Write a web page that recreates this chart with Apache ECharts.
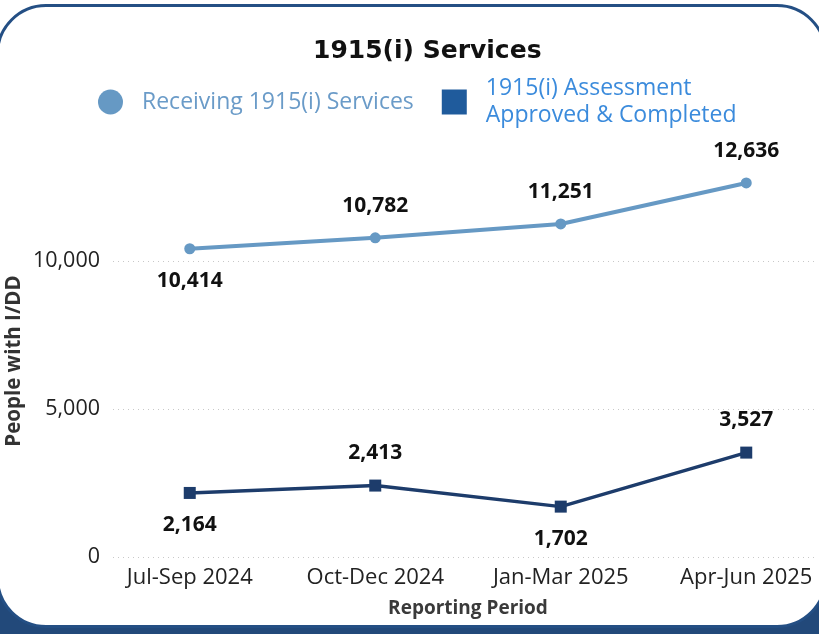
<!DOCTYPE html>
<html><head><meta charset="utf-8">
<script src="https://cdn.jsdelivr.net/npm/echarts@6/dist/echarts.min.js"></script>
<style>
html,body{margin:0;padding:0;width:819px;height:634px;overflow:hidden;background:#fff;}
#bg{position:absolute;left:0;top:0;width:819px;height:634px;background:linear-gradient(#fff 0,#fff 50%,#22497a 50%);}
#card{position:absolute;left:-4px;top:4px;width:825px;height:618px;border:3px solid #244f84;border-radius:50px;background:#fff;}
#chart{position:absolute;left:0;top:0;width:819px;height:634px;}
</style></head>
<body>
<div id="bg"></div><div id="card"></div><div id="chart"></div>
<script>
const categories = ['Jul-Sep 2024', 'Oct-Dec 2024', 'Jan-Mar 2025', 'Apr-Jun 2025'];
const receivingServices = [10414, 10782, 11251, 12636];
const assessmentCompleted = [2164, 2413, 1702, 3527];
const receivingLabelPos = ['bottom', 'top', 'top', 'top'];
const assessmentLabelPos = ['bottom', 'top', 'bottom', 'top'];
const seriesNames = ['Receiving 1915(i) Services', '1915(i) Assessment\nApproved & Completed'];

const FONT = '"Open Sans", "Noto Sans", sans-serif';
const fmt = v => v.toLocaleString('en-US');

function mkData(vals, pos) {
  return vals.map((v, i) => ({ value: v, label: { position: pos[i] } }));
}

const chart = echarts.init(document.getElementById('chart'), null, { renderer: 'canvas' });
chart.setOption({
  backgroundColor: 'transparent',
  animation: false,
  textStyle: { fontFamily: FONT },
  title: {
    text: '1915(i) Services', left: 313, top: 39, padding: 0,
    textStyle: { fontSize: 25, fontWeight: 'bold', color: '#111', fontFamily: '"DejaVu Sans", sans-serif' }
  },
  legend: {
    top: 72, left: 98, itemGap: 28, padding: 0,
    itemWidth: 25, itemHeight: 25,
    data: [
      { name: seriesNames[0], icon: 'circle', itemStyle: { color: '#6699c4' },
        textStyle: { color: '#6a9bc8', fontSize: 23, padding: [0, 0, 0, 14], fontFamily: FONT } },
      { name: seriesNames[1], icon: 'rect', itemStyle: { color: '#1f5b9c' },
        textStyle: { color: '#3b8bdc', fontSize: 23, lineHeight: 27, padding: [6, 0, 0, 14], fontFamily: FONT } }
    ]
  },
  grid: [
    { left: 113, right: 2, top: 261, bottom: 77, outerBoundsMode: 'none' },
    { left: 97, width: 742, top: 113, bottom: 77, outerBoundsMode: 'none' }
  ],
  xAxis: [
    { gridIndex: 0, type: 'category', data: categories, show: false },
    { gridIndex: 1, type: 'category', data: categories, boundaryGap: true,
      axisLine: { show: false }, axisTick: { show: false },
      axisLabel: { fontSize: 22, color: '#222', margin: 10, fontFamily: FONT },
      name: 'Reporting Period', nameLocation: 'middle', nameGap: 42,
      nameTextStyle: { fontSize: 19, fontWeight: 'bold', color: '#3a3a3a', fontFamily: FONT }
    }
  ],
  yAxis: [
    { gridIndex: 0, type: 'value', min: 0, max: 10000, interval: 5000,
      axisLine: { show: false }, axisTick: { show: false },
      axisLabel: { fontSize: 21.5, color: '#222', margin: 13, formatter: v => fmt(v), fontFamily: FONT },
      splitLine: { show: true, lineStyle: { color: '#c8c8c8', type: [1, 4], width: 1 } }
    },
    { gridIndex: 1, type: 'value', min: 0, max: 15000, show: false, splitLine: { show: false } }
  ],
  graphic: [
    { type: 'text', x: 14, y: 361, rotation: Math.PI / 2,
      style: { text: 'People with I/DD', fill: '#333', font: 'bold 20.5px ' + FONT, align: 'center', verticalAlign: 'middle' } }
  ],
  series: [
    { name: seriesNames[0], type: 'line', xAxisIndex: 1, yAxisIndex: 1,
      data: mkData(receivingServices, receivingLabelPos),
      symbol: 'circle', symbolSize: 11,
      lineStyle: { color: '#6699c4', width: 4 }, itemStyle: { color: '#6699c4' },
      label: { show: true, distance: 16, fontSize: 21, fontWeight: 'bold', color: '#111', formatter: p => fmt(p.value), fontFamily: FONT }
    },
    { name: seriesNames[1], type: 'line', xAxisIndex: 1, yAxisIndex: 1,
      data: mkData(assessmentCompleted, assessmentLabelPos),
      symbol: 'rect', symbolSize: 12,
      lineStyle: { color: '#1d3c6b', width: 3.5 }, itemStyle: { color: '#1d3c6b' },
      label: { show: true, distance: 16, fontSize: 21, fontWeight: 'bold', color: '#111', formatter: p => fmt(p.value), fontFamily: FONT }
    }
  ]
});
</script>
</body></html>
